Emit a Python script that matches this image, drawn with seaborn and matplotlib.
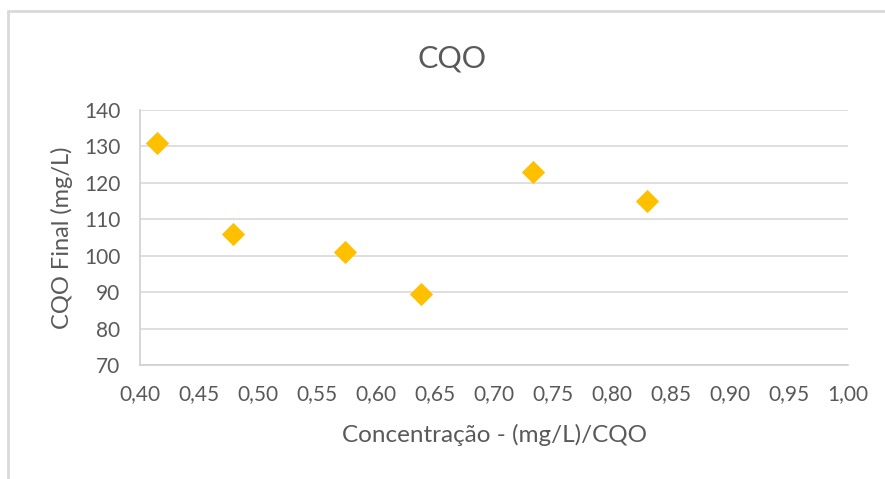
import matplotlib
matplotlib.use("Agg")
import matplotlib.pyplot as plt
import seaborn as sns
import pandas as pd
from matplotlib.lines import Line2D
from matplotlib.ticker import FuncFormatter, MultipleLocator

concentracao = [0.414, 0.479, 0.574, 0.638, 0.733, 0.830]
cqo_final = [131, 106, 101, 89.5, 123, 115]
title = "CQO"
xlabel = "Concentração - (mg/L)/CQO"
ylabel = "CQO Final (mg/L)"

df = pd.DataFrame({"x": concentracao, "y": cqo_final})

sns.set_style("white")
plt.rcParams["font.family"] = ["Lato", "DejaVu Sans"]

fig = plt.figure(figsize=(8.85, 4.79), dpi=100)
ax = fig.add_axes([140/885, 1-365/479, 708/885, 255/479])

sns.scatterplot(data=df, x="x", y="y", ax=ax, marker="D", s=140,
                color="#FFC000", edgecolor="#FFC000", linewidth=0, zorder=3)

ax.set_xlim(0.40, 1.00)
ax.set_ylim(70, 140)
ax.xaxis.set_major_locator(MultipleLocator(0.05))
ax.yaxis.set_major_locator(MultipleLocator(10))
ax.xaxis.set_major_formatter(FuncFormatter(lambda v, p: f"{v:.2f}".replace(".", ",")))
ax.yaxis.set_major_formatter(FuncFormatter(lambda v, p: f"{v:.0f}"))
ax.grid(axis="y", color="#d9d9d9", linewidth=1.2)
ax.grid(axis="x", visible=False)
for s in ["top", "right"]:
    ax.spines[s].set_visible(False)
for s in ["left", "bottom"]:
    ax.spines[s].set_color("#d0d0d0")
    ax.spines[s].set_linewidth(1.2)
ax.tick_params(axis="both", length=0, labelsize=15, colors="#595959")
ax.tick_params(axis="x", pad=14)
ax.tick_params(axis="y", pad=14)

ax.set_xlabel(xlabel, fontsize=17.5, color="#595959", labelpad=14)
ax.set_ylabel(ylabel, fontsize=17, color="#595959", labelpad=8)
fig.text(452/885, 1-58/479, title, fontsize=22, color="#595959",
         ha="center", va="center")

fig.add_artist(Line2D([8/885, 8/885], [0, 1-11/479], transform=fig.transFigure,
                      color="#d9d9d9", linewidth=2))
fig.add_artist(Line2D([8/885, 1], [1-11/479, 1-11/479], transform=fig.transFigure,
                      color="#d9d9d9", linewidth=2))

fig.savefig("out.png", dpi=100)
